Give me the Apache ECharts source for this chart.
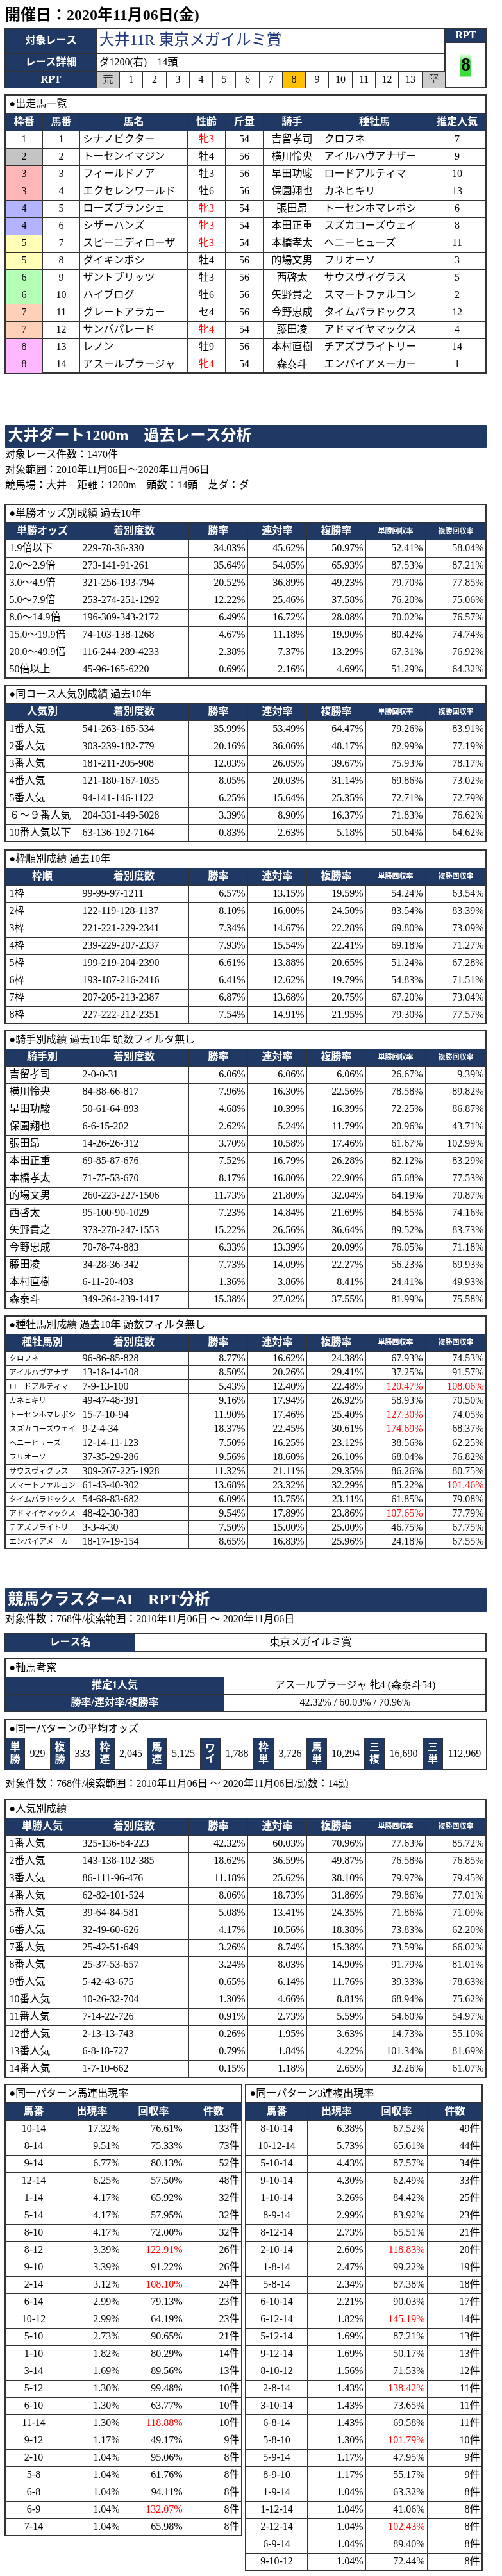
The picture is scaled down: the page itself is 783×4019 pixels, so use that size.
<!DOCTYPE html>
<html><head><meta charset="utf-8">
<script src="https://cdn.jsdelivr.net/npm/echarts@6/dist/echarts.min.js"></script>
<style>html,body{margin:0;padding:0;background:#fff}#c{width:783px;height:4019px}</style>
</head><body><div id="c"></div>
<script>
// ================= DATA =================
const raceDate = '開催日：2020年11月06日(金)';
const raceName = '大井11R 東京メガイルミ賞';
const raceDetail = 'ダ1200(右)　14頭';
const rptScale = ['荒','1','2','3','4','5','6','7','8','9','10','11','12','13','堅'];
const rptValue = '8';

const runnerHeaders = ['枠番','馬番','馬名','性齢','斤量','騎手','種牡馬','推定人気'];
const runnerWaku = [1,2,3,3,4,4,5,5,6,6,7,7,8,8];
const runnerUmaban = [1,2,3,4,5,6,7,8,9,10,11,12,13,14];
const runnerNames = ['シナノビクター','トーセンイマジン','フィールドノア','エクセレンワールド','ローズブランシェ','シザーハンズ','スピーニディローザ','ダイキンボシ','ザントブリッツ','ハイブログ','グレートアラカー','サンバパレード','レノン','アスールプラージャ'];
const runnerSexAge = ['牝3','牡4','牡3','牡6','牝3','牝3','牝3','牡4','牡3','牡6','セ4','牝4','牡9','牝4'];
const runnerWeight = [54,56,56,56,54,54,54,56,56,56,56,54,56,54];
const runnerJockeys = ['吉留孝司','横川怜央','早田功駿','保園翔也','張田昂','本田正重','本橋孝太','的場文男','西啓太','矢野貴之','今野忠成','藤田凌','本村直樹','森泰斗'];
const runnerSires = ['クロフネ','アイルハヴアナザー','ロードアルティマ','カネヒキリ','トーセンホマレボシ','スズカコーズウェイ','ヘニーヒューズ','フリオーソ','サウスヴィグラス','スマートファルコン','タイムパラドックス','アドマイヤマックス','チアズブライトリー','エンパイアメーカー'];
const runnerPopularity = [7,9,10,13,6,8,11,3,5,2,12,4,14,1];

const statHeaders = ['着別度数','勝率','連対率','複勝率','単勝回収率','複勝回収率'];

const oddsRows = [
  ['1.9倍以下','229-78-36-330',34.03,45.62,50.97,52.41,58.04],
  ['2.0～2.9倍','273-141-91-261',35.64,54.05,65.93,87.53,87.21],
  ['3.0～4.9倍','321-256-193-794',20.52,36.89,49.23,79.70,77.85],
  ['5.0～7.9倍','253-274-251-1292',12.22,25.46,37.58,76.20,75.06],
  ['8.0～14.9倍','196-309-343-2172',6.49,16.72,28.08,70.02,76.57],
  ['15.0～19.9倍','74-103-138-1268',4.67,11.18,19.90,80.42,74.74],
  ['20.0～49.9倍','116-244-289-4233',2.38,7.37,13.29,67.31,76.92],
  ['50倍以上','45-96-165-6220',0.69,2.16,4.69,51.29,64.32]
];
const courseNinkiRows = [
  ['1番人気','541-263-165-534',35.99,53.49,64.47,79.26,83.91],
  ['2番人気','303-239-182-779',20.16,36.06,48.17,82.99,77.19],
  ['3番人気','181-211-205-908',12.03,26.05,39.67,75.93,78.17],
  ['4番人気','121-180-167-1035',8.05,20.03,31.14,69.86,73.02],
  ['5番人気','94-141-146-1122',6.25,15.64,25.35,72.71,72.79],
  ['６～９番人気','204-331-449-5028',3.39,8.90,16.37,71.83,76.62],
  ['10番人気以下','63-136-192-7164',0.83,2.63,5.18,50.64,64.62]
];
const wakuRows = [
  ['1枠','99-99-97-1211',6.57,13.15,19.59,54.24,63.54],
  ['2枠','122-119-128-1137',8.10,16.00,24.50,83.54,83.39],
  ['3枠','221-221-229-2341',7.34,14.67,22.28,69.80,73.09],
  ['4枠','239-229-207-2337',7.93,15.54,22.41,69.18,71.27],
  ['5枠','199-219-204-2390',6.61,13.88,20.65,51.24,67.28],
  ['6枠','193-187-216-2416',6.41,12.62,19.79,54.83,71.51],
  ['7枠','207-205-213-2387',6.87,13.68,20.75,67.20,73.04],
  ['8枠','227-222-212-2351',7.54,14.91,21.95,79.30,77.57]
];
const jockeyRows = [
  ['吉留孝司','2-0-0-31',6.06,6.06,6.06,26.67,9.39],
  ['横川怜央','84-88-66-817',7.96,16.30,22.56,78.58,89.82],
  ['早田功駿','50-61-64-893',4.68,10.39,16.39,72.25,86.87],
  ['保園翔也','6-6-15-202',2.62,5.24,11.79,20.96,43.71],
  ['張田昂','14-26-26-312',3.70,10.58,17.46,61.67,102.99],
  ['本田正重','69-85-87-676',7.52,16.79,26.28,82.12,83.29],
  ['本橋孝太','71-75-53-670',8.17,16.80,22.90,65.68,77.53],
  ['的場文男','260-223-227-1506',11.73,21.80,32.04,64.19,70.87],
  ['西啓太','95-100-90-1029',7.23,14.84,21.69,84.85,74.16],
  ['矢野貴之','373-278-247-1553',15.22,26.56,36.64,89.52,83.73],
  ['今野忠成','70-78-74-883',6.33,13.39,20.09,76.05,71.18],
  ['藤田凌','34-28-36-342',7.73,14.09,22.27,56.23,69.93],
  ['本村直樹','6-11-20-403',1.36,3.86,8.41,24.41,49.93],
  ['森泰斗','349-264-239-1417',15.38,27.02,37.55,81.99,75.58]
];
const sireRows = [
  ['クロフネ','96-86-85-828',8.77,16.62,24.38,67.93,74.53],
  ['アイルハヴアナザー','13-18-14-108',8.50,20.26,29.41,37.25,91.57],
  ['ロードアルティマ','7-9-13-100',5.43,12.40,22.48,120.47,108.06],
  ['カネヒキリ','49-47-48-391',9.16,17.94,26.92,58.93,70.50],
  ['トーセンホマレボシ','15-7-10-94',11.90,17.46,25.40,127.30,74.05],
  ['スズカコーズウェイ','9-2-4-34',18.37,22.45,30.61,174.69,68.37],
  ['ヘニーヒューズ','12-14-11-123',7.50,16.25,23.12,38.56,62.25],
  ['フリオーソ','37-35-29-286',9.56,18.60,26.10,68.04,76.82],
  ['サウスヴィグラス','309-267-225-1928',11.32,21.11,29.35,86.26,80.75],
  ['スマートファルコン','61-43-40-302',13.68,23.32,32.29,85.22,101.46],
  ['タイムパラドックス','54-68-83-682',6.09,13.75,23.11,61.85,79.08],
  ['アドマイヤマックス','48-42-30-383',9.54,17.89,23.86,107.65,77.79],
  ['チアズブライトリー','3-3-4-30',7.50,15.00,25.00,46.75,67.75],
  ['エンパイアメーカー','18-17-19-154',8.65,16.83,25.96,24.18,67.55]
];

const axisHorse = 'アスールプラージャ 牝4 (森泰斗54)';
const axisRates = [42.32, 60.03, 70.96];
const oddsLabels = ['単勝','複勝','枠連','馬連','ワイド','枠単','馬単','三複','三単'];
const oddsValues = [929,333,2045,5125,1788,3726,10294,16690,112969];

const aiNinkiRows = [
  ['1番人気','325-136-84-223',42.32,60.03,70.96,77.63,85.72],
  ['2番人気','143-138-102-385',18.62,36.59,49.87,76.58,76.85],
  ['3番人気','86-111-96-476',11.18,25.62,38.10,79.97,79.45],
  ['4番人気','62-82-101-524',8.06,18.73,31.86,79.86,77.01],
  ['5番人気','39-64-84-581',5.08,13.41,24.35,71.86,71.09],
  ['6番人気','32-49-60-626',4.17,10.56,18.38,73.83,62.20],
  ['7番人気','25-42-51-649',3.26,8.74,15.38,73.59,66.02],
  ['8番人気','25-37-53-657',3.24,8.03,14.90,91.79,81.01],
  ['9番人気','5-42-43-675',0.65,6.14,11.76,39.33,78.63],
  ['10番人気','10-26-32-704',1.30,4.66,8.81,68.94,75.62],
  ['11番人気','7-14-22-726',0.91,2.73,5.59,54.60,54.97],
  ['12番人気','2-13-13-743',0.26,1.95,3.63,14.73,55.10],
  ['13番人気','6-8-18-727',0.79,1.84,4.22,101.34,81.69],
  ['14番人気','1-7-10-662',0.15,1.18,2.65,32.26,61.07]
];
const umarenRows = [
  ['10-14',17.32,76.61,133],['8-14',9.51,75.33,73],['9-14',6.77,80.13,52],['12-14',6.25,57.50,48],
  ['1-14',4.17,65.92,32],['5-14',4.17,57.95,32],['8-10',4.17,72.00,32],['8-12',3.39,122.91,26],
  ['9-10',3.39,91.22,26],['2-14',3.12,108.10,24],['6-14',2.99,79.13,23],['10-12',2.99,64.19,23],
  ['5-10',2.73,90.65,21],['1-10',1.82,80.29,14],['3-14',1.69,89.56,13],['5-12',1.30,99.48,10],
  ['6-10',1.30,63.77,10],['11-14',1.30,118.88,10],['9-12',1.17,49.17,9],['2-10',1.04,95.06,8],
  ['5-8',1.04,61.76,8],['6-8',1.04,94.11,8],['6-9',1.04,132.07,8],['7-14',1.04,65.98,8]
];
const sanrenpukuRows = [
  ['8-10-14',6.38,67.52,49],['10-12-14',5.73,65.61,44],['5-10-14',4.43,87.57,34],['9-10-14',4.30,62.49,33],
  ['1-10-14',3.26,84.42,25],['8-9-14',2.99,83.92,23],['8-12-14',2.73,65.51,21],['2-10-14',2.60,118.83,20],
  ['1-8-14',2.47,99.22,19],['5-8-14',2.34,87.38,18],['6-10-14',2.21,90.03,17],['6-12-14',1.82,145.19,14],
  ['5-12-14',1.69,87.21,13],['9-12-14',1.69,50.17,13],['8-10-12',1.56,71.53,12],['2-8-14',1.43,138.42,11],
  ['3-10-14',1.43,73.65,11],['6-8-14',1.43,69.58,11],['5-8-10',1.30,101.79,10],['5-9-14',1.17,47.95,9],
  ['8-9-10',1.17,55.17,9],['1-9-14',1.04,63.32,8],['1-12-14',1.04,41.06,8],['2-12-14',1.04,102.43,8],
  ['6-9-14',1.04,89.40,8],['9-10-12',1.04,72.44,8]
];

// ================= STYLE / LAYOUT =================
const FF = "'Liberation Serif','Noto Sans CJK JP',serif";
const NAVY = '#203864';
const LINE = '#333333';
const RED = '#ff0000';
const wakuColors = {1:'#ffffff',2:'#c4c4c4',3:'#ffb6b6',4:'#b3b3ff',5:'#ffffb8',6:'#b6ffb6',7:'#ffd0b8',8:'#ffb8ff'};

const chart = echarts.init(document.getElementById('c'), null, {renderer: 'canvas'});
const sum = a => a.reduce((s, v) => s + v, 0);
const pct = v => v.toFixed(2) + '%';
const rep = (n, v) => Array.from({length: n}, () => v);

function cell(c, r, text, o = {}) {
  const d = {coord: [c, r], value: String(text)};
  if (o.span) { d.coord = [[c, c + o.span - 1], r]; d.mergeCells = true; }
  const label = {};
  if (o.align === 'left') { label.position = 'insideLeft'; label.distance = o.pad != null ? o.pad : 2; label.align = 'left'; }
  else if (o.align === 'right') { label.position = 'insideRight'; label.distance = o.pad != null ? o.pad : 1; label.align = 'right'; }
  if (o.head) { d.itemStyle = {color: NAVY}; label.color = '#fff'; label.fontWeight = 'bold'; }
  if (o.bg) d.itemStyle = Object.assign(d.itemStyle || {}, {color: o.bg});
  if (o.color) label.color = o.color;
  if (o.fontSize) label.fontSize = o.fontSize;
  if (o.bold) label.fontWeight = 'bold';
  if (o.lineHeight) label.lineHeight = o.lineHeight;
  if (o.extra) Object.assign(label, o.extra);
  d.label = label;
  return d;
}

function mtx(left, top, colW, rowH, cells, o = {}) {
  return {
    left, top, width: sum(colW), height: sum(rowH),
    x: {show: false, data: colW.map((w, i) => ({value: 'c' + i, size: w}))},
    y: {show: false, data: rowH.map((h, i) => ({value: 'r' + i, size: h}))},
    body: {
      data: cells,
      itemStyle: {color: '#fff', borderColor: o.border || LINE, borderWidth: 1},
      label: {fontSize: 16, fontFamily: FF, color: '#000'}
    },
    backgroundStyle: {color: '#fff', borderColor: o.border || LINE, borderWidth: o.outer != null ? o.outer : 2}
  };
}

const matrices = [];

// --- header table
(function () {
  const colW = [142].concat(rep(15, 36.27));
  const cells = [
    cell(0, 0, '対象レース', {head: true}),
    cell(1, 0, raceName, {span: 15, align: 'left', pad: 1, fontSize: 24, color: '#24397a'}),
    cell(0, 1, 'レース詳細', {head: true}),
    cell(1, 1, raceDetail, {span: 15, align: 'left', pad: 1}),
    cell(0, 2, 'RPT', {head: true})
  ];
  rptScale.forEach((s, i) => {
    const edge = (i === 0 || i === rptScale.length - 1);
    const bg = edge ? '#cccccc' : (s === rptValue ? '#ffc000' : '#ffffff');
    cells.push(cell(i + 1, 2, s, {bg, color: edge ? '#333' : '#000'}));
  });
  matrices.push(mtx(8, 44, colW, [39, 28, 26], cells));
  const grad = new echarts.graphic.LinearGradient(0, 0, 0, 1, [
    {offset: 0, color: '#f2fff2'}, {offset: 0.18, color: '#9cf09c'}, {offset: 0.32, color: '#3fdc3f'}, {offset: 1, color: '#3fdc3f'}
  ]);
  matrices.push(mtx(694, 44, [64], [22, 71], [
    cell(0, 0, 'RPT', {head: true}),
    cell(0, 1, rptValue, {fontSize: 30, bold: true, extra: {backgroundColor: grad, width: 15, height: 30, lineHeight: 30, padding: [3, 1, 2, 1], align: 'center', overflow: 'none'}})
  ]));
})();

// --- runner table
(function () {
  const colW = [58.5, 58, 167.5, 59, 59, 90, 167.5, 90.5];
  const cells = [cell(0, 0, '●出走馬一覧', {span: 8, align: 'left', pad: 3})];
  runnerHeaders.forEach((h, i) => cells.push(cell(i, 1, h, {head: true})));
  runnerWaku.forEach((w, r) => {
    const y = r + 2;
    cells.push(cell(0, y, w, {bg: wakuColors[w]}));
    cells.push(cell(1, y, runnerUmaban[r]));
    cells.push(cell(2, y, runnerNames[r], {align: 'left', pad: 2}));
    cells.push(cell(3, y, runnerSexAge[r], {color: runnerSexAge[r].charAt(0) === '牝' ? RED : '#000'}));
    cells.push(cell(4, y, runnerWeight[r]));
    cells.push(cell(5, y, runnerJockeys[r]));
    cells.push(cell(6, y, runnerSires[r], {align: 'left', pad: 2}));
    cells.push(cell(7, y, runnerPopularity[r]));
  });
  matrices.push(mtx(8, 148, colW, [29, 27].concat(rep(14, 27)), cells));
})();

function sectionBar(top, h, text) {
  matrices.push(mtx(8, top, [750], [h], [
    cell(0, 0, text, {bg: NAVY, align: 'left', pad: 1, color: '#fff', fontSize: 24, bold: true})
  ], {border: NAVY, outer: 0}));
}

function statTable(top, title, firstHead, rows, rowH, o = {}) {
  const colW = [115.5, 170.5, 92, 92, 92, 93, 95];
  const cells = [cell(0, 0, title, {span: 7, align: 'left', pad: 3})];
  [firstHead].concat(statHeaders).forEach((h, i) => cells.push(cell(i, 1, h, {head: true, fontSize: i >= 5 ? 11 : 16})));
  rows.forEach((row, r) => {
    cells.push(cell(0, r + 2, row[0], {align: 'left', pad: 3, fontSize: o.nameSize}));
    cells.push(cell(1, r + 2, row[1], {align: 'left', pad: 2}));
    for (let k = 2; k < 7; k++) {
      const v = row[k];
      cells.push(cell(k, r + 2, pct(v), {align: 'right', pad: 1, color: (o.hl && k >= 5 && v >= 100) ? RED : undefined}));
    }
  });
  matrices.push(mtx(8, top, colW, [28, 27].concat(rep(rows.length, rowH)), cells));
}

sectionBar(663, 35, '大井ダート1200m　過去レース分析');
statTable(787, '●単勝オッズ別成績 過去10年', '単勝オッズ', oddsRows, 27);
statTable(1069, '●同コース人気別成績 過去10年', '人気別', courseNinkiRows, 27);
statTable(1326, '●枠順別成績 過去10年', '枠順', wakuRows, 27);
statTable(1608, '●騎手別成績 過去10年 頭数フィルタ無し', '騎手別', jockeyRows, 27);
statTable(2053, '●種牡馬別成績 過去10年 頭数フィルタ無し', '種牡馬別', sireRows, 22, {hl: true, nameSize: 11.5});

sectionBar(2478, 36, '競馬クラスターAI　RPT分析');

// race name
matrices.push(mtx(8, 2548, [202, 548], [29], [
  cell(0, 0, 'レース名', {head: true}),
  cell(1, 0, '東京メガイルミ賞')
]));
// axis horse
matrices.push(mtx(8, 2588, [341, 409], [28, 27, 27], [
  cell(0, 0, '●軸馬考察', {span: 2, align: 'left', pad: 3}),
  cell(0, 1, '推定1人気', {head: true}),
  cell(1, 1, axisHorse),
  cell(0, 2, '勝率/連対率/複勝率', {head: true}),
  cell(1, 2, axisRates.map(pct).join(' / '))
]));
// average odds
(function () {
  const colW = [30, 40.5, 29.5, 40.5, 30, 51, 30, 53, 30.5, 52.5, 30.5, 52.5, 30.5, 59.5, 30.5, 60, 31, 68.5];
  const cells = [cell(0, 0, '●同一パターンの平均オッズ', {span: 18, align: 'left', pad: 3})];
  oddsLabels.forEach((l, i) => {
    cells.push(cell(i * 2, 1, l.split('').join('\n'), {head: true, lineHeight: l.length > 2 ? 16 : 19}));
    cells.push(cell(i * 2 + 1, 1, oddsValues[i].toLocaleString('en-US')));
  });
  matrices.push(mtx(8, 2683, colW, [28, 50], cells));
})();

statTable(2808, '●人気別成績', '単勝人気', aiNinkiRows, 27);

function patternTable(left, colW, title, rows) {
  const cells = [cell(0, 0, title, {span: 4, align: 'left', pad: 3})];
  ['馬番', '出現率', '回収率', '件数'].forEach((h, i) => cells.push(cell(i, 1, h, {head: true})));
  rows.forEach((row, r) => {
    cells.push(cell(0, r + 2, row[0]));
    cells.push(cell(1, r + 2, pct(row[1]), {align: 'right', pad: 1}));
    cells.push(cell(2, r + 2, pct(row[2]), {align: 'right', pad: 1, color: row[2] >= 100 ? RED : undefined}));
    cells.push(cell(3, r + 2, row[3] + '件', {align: 'right', pad: 1}));
  });
  matrices.push(mtx(left, 3252, colW, [28, 28].concat(rep(rows.length, 27)), cells));
}
patternTable(8, [88, 94, 98, 89], '●同一パターン馬連出現率', umarenRows);
patternTable(383, [96, 91, 96, 86], '●同一パターン3連複出現率', sanrenpukuRows);

function textLine(text, centerY, size, bold) {
  return {
    text, left: 8, top: centerY - (size + 4) / 2, padding: 0,
    textStyle: {fontSize: size, lineHeight: size + 4, fontWeight: bold ? 'bold' : 'normal', fontFamily: FF, color: '#000'}
  };
}

chart.setOption({
  animation: false,
  backgroundColor: '#fff',
  title: [
    textLine(raceDate, 25, 24, true),
    textLine('対象レース件数：1470件', 710, 16),
    textLine('対象範囲：2010年11月06日～2020年11月06日', 734, 16),
    textLine('競馬場：大井　距離：1200m　頭数：14頭　芝ダ：ダ', 758, 16),
    textLine('対象件数：768件/検索範囲：2010年11月06日 ～ 2020年11月06日', 2527, 16),
    textLine('対象件数：768件/検索範囲：2010年11月06日 ～ 2020年11月06日/頭数：14頭', 2784, 16)
  ],
  matrix: matrices
});
</script>
</body></html>
